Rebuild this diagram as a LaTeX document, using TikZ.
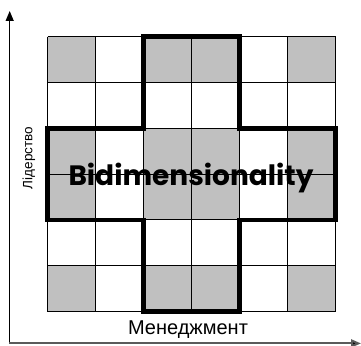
\documentclass[tikz,border=0pt]{standalone}
\usepackage{fontspec}
\setmainfont{Liberation Sans}
\newfontfamily\popfont{Poppins}
\usetikzlibrary{arrows.meta}
\definecolor{cellgray}{RGB}{192,192,192}
\definecolor{axisgray}{RGB}{90,90,90}
\tikzset{
  cell/.style={fill=cellgray,draw=none},
  gridline/.style={draw=black,line width=0.9pt},
  crossline/.style={draw=black,line width=4.5pt,line join=miter},
  axisline/.style={line width=1.2pt,-{Triangle[length=10pt,width=8pt]}},
  axislabel/.style={inner sep=0pt},
}
\begin{document}
\begin{tikzpicture}[x=1pt,y=-1pt]
\useasboundingbox (0,0) rectangle (361,345);
% gray cells
\foreach \c in {0,2,3,5}{
  \foreach \r in {0,2,3,5}{
    \fill[cell] ({47.5+48*\c},{36.7+45.8*\r}) rectangle ++(48,45.8);
  }
}
% thin grid
\foreach \i in {0,...,6}{
  \draw[gridline] ({47.5+48*\i},36.7) -- ({47.5+48*\i},311.5);
  \draw[gridline] (47.5,{36.7+45.8*\i}) -- (335.5,{36.7+45.8*\i});
}
% thick cross
\draw[crossline] (143.5,36.7) -- (239.5,36.7) -- (239.5,128.3) -- (335.5,128.3)
  -- (335.5,219.9) -- (239.5,219.9) -- (239.5,311.5) -- (143.5,311.5)
  -- (143.5,219.9) -- (47.5,219.9) -- (47.5,128.3) -- (143.5,128.3) -- cycle;
% axes
\coordinate (origin) at (9.7,343.4);
\coordinate (ytip) at (9.7,11);
\coordinate (xtip) at (361,343.4);
\draw[axisline,draw=black] (origin) -- (ytip);
\draw[axisline,draw=axisgray,line width=2pt,-{Triangle[length=10pt,width=8pt,fill=black]}] ([xshift=-0.6pt]origin) -- (xtip);
% labels
\node[axislabel,rotate=90,font=\fontsize{13.5}{15}\selectfont] (ylab) at (29,158) {Лідерство};
\node[axislabel,font=\fontsize{20}{22}\selectfont] (xlab) at (188,329.5) {Менеджмент};
\node[inner sep=0pt,anchor=base,font=\popfont\bfseries\fontsize{28}{30}\selectfont] (title) at (191,185) {Bidimensionality};
\end{tikzpicture}
\end{document}
